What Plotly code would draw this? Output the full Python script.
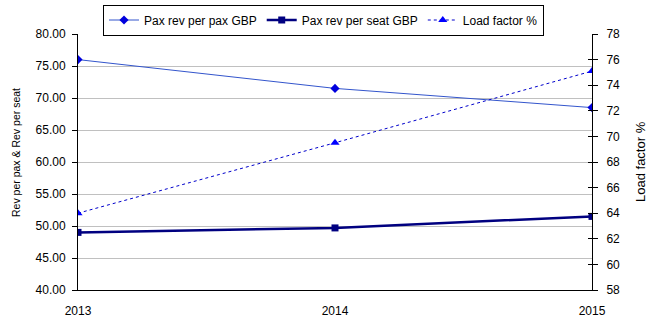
import plotly.graph_objects as go

years = [2013, 2014, 2015]
year_labels = ["2013", "2014", "2015"]
pax_rev_per_pax = [76.0, 71.5, 68.5]
pax_rev_per_seat = [49.0, 49.7, 51.5]
load_factor = [64.0, 69.5, 75.1]

FONT = "Liberation Sans, Arial, sans-serif"
L, R, T, B, W, H = 78, 62, 34, 33, 654, 323
PW, PH = W - L - R, H - T - B


def px_x(x):
    return (x - L) / PW


def px_y(y):
    return (H - B - y) / PH


fig = go.Figure()
fig.add_trace(go.Scatter(
    x=years, y=pax_rev_per_pax, name="Pax rev per pax GBP", mode="lines+markers",
    line=dict(color="#3355CC", width=1),
    marker=dict(symbol="diamond", size=7, color="#0000DD"),
))
fig.add_trace(go.Scatter(
    x=years, y=pax_rev_per_seat, name="Pax rev per seat GBP", mode="lines+markers",
    line=dict(color="#000080", width=2.5),
    marker=dict(symbol="square", size=7, color="#000080"),
))
fig.add_trace(go.Scatter(
    x=years, y=load_factor, name="Load factor %", mode="lines+markers", yaxis="y2",
    line=dict(color="#0000CC", width=1, dash="3px,3px"),
    marker=dict(symbol="triangle-up", size=8, color="#0000FF"),
))
fig.add_trace(go.Scatter(x=[], y=[], yaxis="y3", showlegend=False, hoverinfo="skip"))

fig.update_layout(
    width=W, height=H,
    margin=dict(l=L, r=R, t=T, b=B, autoexpand=False),
    paper_bgcolor="white", plot_bgcolor="white",
    font=dict(family=FONT, size=12, color="black"),
    showlegend=True,
    legend=dict(
        orientation="h", x=px_x(103), xanchor="left",
        y=px_y(4.5), yanchor="top",
        bordercolor="black", borderwidth=1, bgcolor="white",
        font=dict(family=FONT, size=12, color="black"),
        itemwidth=30, tracegroupgap=0,
    ),
    xaxis=dict(
        range=[2013, 2015], tickvals=years, ticktext=year_labels,
        showgrid=False, showline=True, linecolor="black", linewidth=1,
        ticks="", zeroline=False, tickfont=dict(size=12), automargin=False,
        ticklabelstandoff=10,
    ),
    yaxis=dict(
        range=[40, 80], dtick=5, tick0=40, tickformat=".2f",
        showgrid=True, gridcolor="#C0C0C0", gridwidth=1,
        showline=True, linecolor="black", linewidth=1,
        ticks="outside", ticklen=5, tickcolor="black",
        zeroline=False, automargin=False, ticklabelstandoff=4,
    ),
    yaxis2=dict(
        range=[58, 78], dtick=2, tick0=58, overlaying="y", side="right", anchor="x",
        showgrid=False, showline=True, linecolor="black", linewidth=1,
        ticks="outside", ticklen=5, tickcolor="black",
        zeroline=False, automargin=False, ticklabelstandoff=6,
    ),
    yaxis3=dict(
        range=[58, 78], dtick=2, tick0=58, overlaying="y", side="right", anchor="x",
        showgrid=False, showline=False, showticklabels=False,
        ticks="inside", ticklen=4, tickcolor="black", zeroline=False, automargin=False,
    ),
    annotations=[
        dict(text="Rev per pax & Rev per seat", textangle=-90, showarrow=False,
             xref="paper", yref="paper", x=px_x(16), y=px_y(153),
             xanchor="center", yanchor="middle", font=dict(size=10.5)),
        dict(text="Load factor %", textangle=-90, showarrow=False,
             xref="paper", yref="paper", x=px_x(640), y=px_y(162),
             xanchor="center", yanchor="middle", font=dict(size=13)),
    ],
)

fig.write_html("out.html")
